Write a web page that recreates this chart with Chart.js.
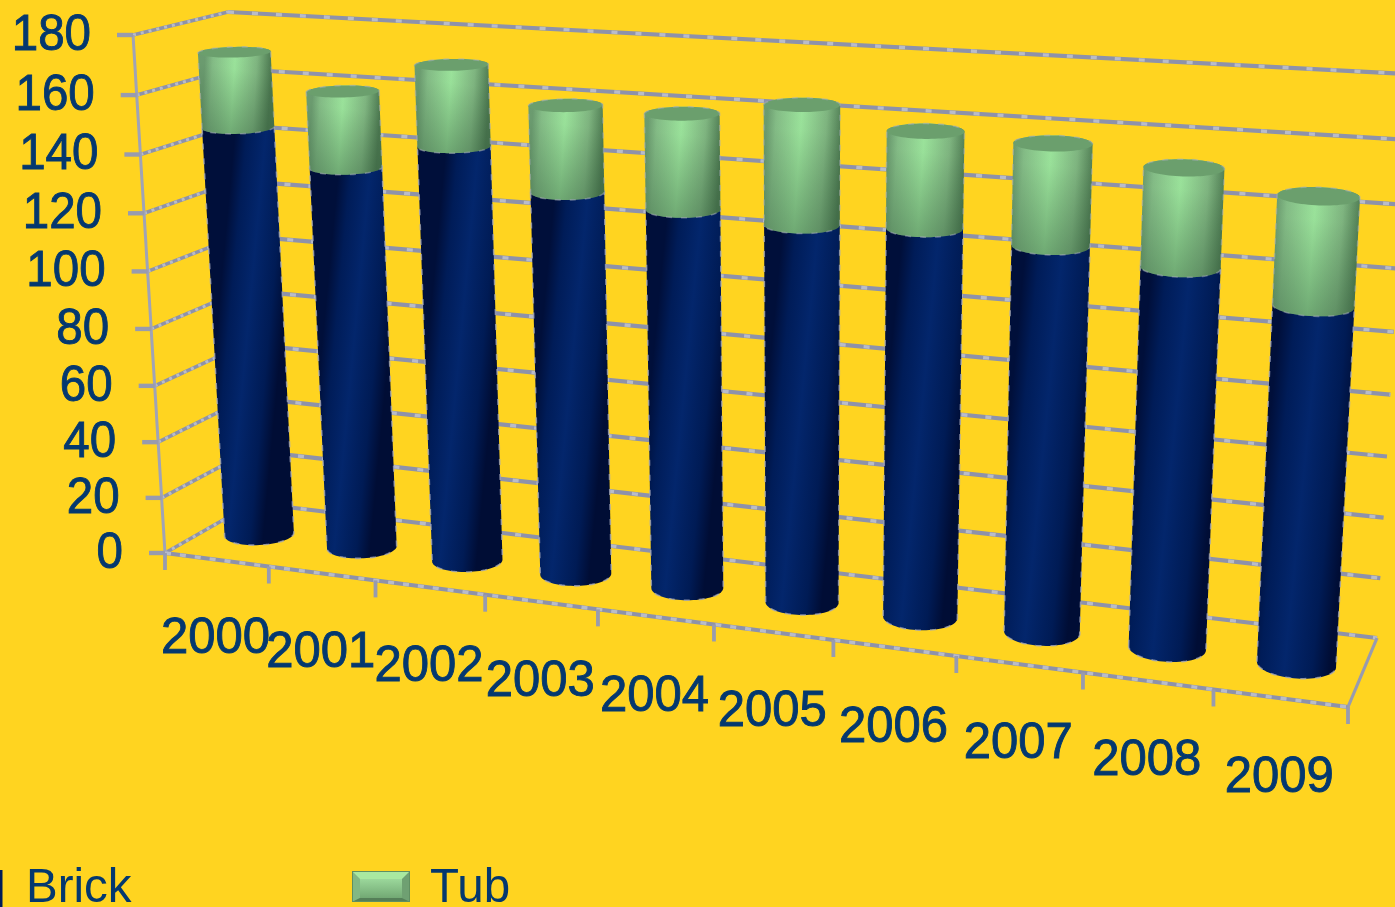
<!DOCTYPE html>
<html>
<head>
<meta charset="utf-8">
<style>
html,body{margin:0;padding:0;background:#FFD420;overflow:hidden}
canvas{display:block}
</style>
<script src="https://cdn.jsdelivr.net/npm/chart.js@4"></script>
</head>
<body>
<canvas id="chart" width="1395" height="907"></canvas>
<script>
const categories = ['2000','2001','2002','2003','2004','2005','2006','2007','2008','2009'];
const brick = [145.5,134.4,144.4,131.8,129,127,129,126.6,123,114.5];
const tub = [25.8,25.9,27.1,28.7,31.3,38.6,30.8,32,30.8,33.5];
const valueTicks = [0,20,40,60,80,100,120,140,160,180];

const INK = '#04386F';
const GRID = '#8E92AA';
const GRID_LIGHT = '#B9BCC9';
const PAPER = '#FFD420';

// Builds a projective map from the unit square to a screen quad
// (corners given as s0t0, s1t0, s1t1, s0t1).
function quadMap(p0, p1, p2, p3) {
  const dx1 = p1[0]-p2[0], dx2 = p3[0]-p2[0], sx = p0[0]-p1[0]+p2[0]-p3[0];
  const dy1 = p1[1]-p2[1], dy2 = p3[1]-p2[1], sy = p0[1]-p1[1]+p2[1]-p3[1];
  const den = dx1*dy2-dx2*dy1;
  const g = (sx*dy2-dx2*sy)/den, h = (dx1*sy-sx*dy1)/den;
  const a = p1[0]-p0[0]+g*p1[0], b = p3[0]-p0[0]+h*p3[0], c = p0[0];
  const d = p1[1]-p0[1]+g*p1[1], e = p3[1]-p0[1]+h*p3[1], f = p0[1];
  return (s,t) => {
    const w = g*s+h*t+1;
    return [(a*s+b*t+c)/w, (d*s+e*t+f)/w];
  };
}

// Front and back faces of the 3D plot box.
const frontFace = quadMap([165,553],[1348,707],[1379,113],[133,35]);
const backFace = quadMap([253,503],[1377,638],[1408,74],[228,12]);

function project(s, t, z) {
  const f = frontFace(s,t), b = backFace(s,t);
  return [f[0]+(b[0]-f[0])*z, f[1]+(b[1]-f[1])*z];
}

function line(ctx, a, b, width, color) {
  ctx.beginPath();
  ctx.moveTo(a[0],a[1]);
  ctx.lineTo(b[0],b[1]);
  ctx.lineWidth = width;
  ctx.strokeStyle = color;
  ctx.stroke();
}

function gridLine(ctx, a, b, width, dash) {
  ctx.setLineDash([]);
  line(ctx, a, b, width, GRID);
  ctx.setLineDash(dash);
  line(ctx, a, b, width*0.8, GRID_LIGHT);
  ctx.setLineDash([]);
}

function convexHull(points) {
  const pts = points.slice().sort((p,q) => p[0]-q[0] || p[1]-q[1]);
  const cross = (o,a,b) => (a[0]-o[0])*(b[1]-o[1])-(a[1]-o[1])*(b[0]-o[0]);
  const lower = [], upper = [];
  for (const p of pts) {
    while (lower.length>1 && cross(lower[lower.length-2],lower[lower.length-1],p)<=0) lower.pop();
    lower.push(p);
  }
  for (let i=pts.length-1;i>=0;i--) {
    const p = pts[i];
    while (upper.length>1 && cross(upper[upper.length-2],upper[upper.length-1],p)<=0) upper.pop();
    upper.push(p);
  }
  lower.pop(); upper.pop();
  return lower.concat(upper);
}

function tracePath(ctx, pts) {
  ctx.beginPath();
  pts.forEach((p,i) => i ? ctx.lineTo(p[0],p[1]) : ctx.moveTo(p[0],p[1]));
  ctx.closePath();
}

// Draws one cylinder segment between two stacked levels.
function drawCylinder(ctx, s0, halfS, tBase, tTop, isTub) {
  const DEPTH_RADIUS = 0.2;
  const ring = t => {
    const out = [];
    for (let k=0;k<72;k++) {
      const th = k/72*Math.PI*2;
      out.push(project(s0+halfS*Math.cos(th), t, 0.5+DEPTH_RADIUS*Math.sin(th)));
    }
    return out;
  };
  const bottom = ring(tBase), top = ring(tTop);
  const hull = convexHull(bottom.concat(top));
  const leftMid = project(s0-halfS,(tBase+tTop)/2,0.5);
  const rightMid = project(s0+halfS,(tBase+tTop)/2,0.5);

  ctx.save();
  tracePath(ctx, hull);
  ctx.clip();
  const across = ctx.createLinearGradient(leftMid[0]-2,leftMid[1],rightMid[0]+2,rightMid[1]);
  if (isTub) {
    across.addColorStop(0,'#6C9C70');
    across.addColorStop(0.12,'#84BC86');
    across.addColorStop(0.45,'#9BE39B');
    across.addColorStop(0.78,'#7FB580');
    across.addColorStop(1,'#4C7850');
  } else {
    across.addColorStop(0,'#000F3A');
    across.addColorStop(0.18,'#001C58');
    across.addColorStop(0.47,'#03266C');
    across.addColorStop(0.8,'#001B55');
    across.addColorStop(1,'#000D35');
  }
  ctx.fillStyle = across;
  ctx.fillRect(0,0,1395,907);
  if (isTub) {
    const a = project(s0,tTop,0.5), b = project(s0,tBase,0.3);
    const down = ctx.createLinearGradient(a[0],a[1],b[0],b[1]);
    down.addColorStop(0,'rgba(50,90,60,0)');
    down.addColorStop(0.2,'rgba(50,90,60,0.02)');
    down.addColorStop(1,'rgba(50,90,60,0.42)');
    ctx.fillStyle = down;
    ctx.fillRect(0,0,1395,907);
  }
  ctx.restore();

  if (isTub) {
    tracePath(ctx, top);
    ctx.fillStyle = '#6B9F6D';
    ctx.fill();
  }

  // Pale broken edge along the silhouette of the cylinder.
  ctx.save();
  tracePath(ctx, hull);
  ctx.lineWidth = 1.6;
  ctx.setLineDash([6,9]);
  ctx.strokeStyle = isTub ? 'rgba(170,175,190,0.5)' : 'rgba(165,170,190,0.75)';
  ctx.stroke();
  ctx.restore();
}

// Text with a hairline of its own colour and an optional horizontal squeeze.
function label(ctx, text, x, y, squeeze) {
  ctx.save();
  ctx.translate(x,y);
  ctx.scale(squeeze,1);
  ctx.strokeStyle = INK;
  ctx.lineWidth = 0.9;
  ctx.strokeText(text,0,0);
  ctx.fillText(text,0,0);
  ctx.restore();
}

const box3d = {
  id: 'box3d',
  beforeDraw(chart) {
    const {ctx, scales:{x,y}, chartArea:area} = chart;
    const ns = v => (x.getPixelForValue(v)-area.left)/area.width;
    const nt = v => (area.bottom-y.getPixelForValue(v))/area.height;
    chart.$ns = ns; chart.$nt = nt;

    ctx.save();
    ctx.fillStyle = PAPER;
    ctx.fillRect(0,0,chart.width,chart.height);
    ctx.lineCap = 'butt';

    // Side wall and back wall gridlines
    valueTicks.forEach(v => {
      const t = nt(v);
      gridLine(ctx, frontFace(0,t), backFace(0,t), 3.6, [3,5]);
      gridLine(ctx, backFace(0,t), backFace(1,t), 4.2, [6,18]);
    });

    // Left axis with its outward ticks
    line(ctx, frontFace(0,0), frontFace(0,1), 3, '#A0A3B6');
    valueTicks.forEach(v => {
      const p = frontFace(0,nt(v));
      line(ctx, [p[0]-16,p[1]], [p[0],p[1]], 4.4, '#989BAF');
    });

    // Floor outline and category ticks
    gridLine(ctx, frontFace(0,0), frontFace(1,0), 4.2, [6,9]);
    line(ctx, frontFace(1,0), backFace(1,0), 3.2, '#989BAF');
    for (let i=0;i<=categories.length;i++) {
      const p = frontFace(i/categories.length,0);
      line(ctx, [p[0],p[1]], [p[0],p[1]+17], 3.8, '#989BAF');
    }
    ctx.restore();
  },
  beforeDatasetsDraw(chart) {
    // Stacked upward: the lower segment first so the upper one overlaps its rim.
    const {ctx, chartArea:area} = chart;
    chart.data.datasets.forEach((ds, index) => {
      chart.getDatasetMeta(index).data.forEach(bar => {
        const p = bar.getProps(['x','y','base','width'], true);
        const s0 = (p.x-area.left)/area.width;
        const halfS = p.width/2/area.width;
        const tBase = (area.bottom-p.base)/area.height;
        const tTop = (area.bottom-p.y)/area.height;
        drawCylinder(ctx, s0, halfS, tBase, tTop, index === 1);
      });
    });
  },
  beforeDatasetDraw() {
    return false;
  },
  afterDraw(chart) {
    const {ctx} = chart;
    const ns = chart.$ns, nt = chart.$nt;
    ctx.save();
    ctx.fillStyle = INK;
    ctx.textBaseline = 'middle';

    // Value labels beside the left axis
    ctx.font = '50px "Liberation Sans"';
    ctx.textAlign = 'right';
    valueTicks.forEach(v => {
      const p = frontFace(0,nt(v));
      label(ctx, String(v), p[0]-42, p[1]+1, 0.95);
    });

    // Category labels below the floor edge
    ctx.textAlign = 'center';
    categories.forEach((c,i) => {
      const p = frontFace(ns(i),0);
      label(ctx, c, p[0]-1, p[1]+79.5+0.1*i, 0.98);
    });

    // Legend row
    const datasets = chart.data.datasets;
    ctx.textAlign = 'left';
    ctx.textBaseline = 'alphabetic';
    ctx.font = '47.5px "Liberation Sans"';
    ctx.fillText(datasets[0].label, 26, 902);
    ctx.fillText(datasets[1].label, 430, 902);

    // Navy swatch runs off the left edge of the canvas
    ctx.fillStyle = '#001C58';
    ctx.fillRect(0,870,2.5,37);

    // Bevelled green swatch
    const sx=352, sy=871, sw=58, sh=31, b=8;
    const g = ctx.createLinearGradient(0,sy,0,sy+sh);
    g.addColorStop(0,'#B5EEA6');
    g.addColorStop(0.3,'#98D498');
    g.addColorStop(1,'#6A9F6C');
    ctx.fillStyle = g;
    ctx.fillRect(sx,sy,sw,sh);
    const bevel = (pts,c) => { tracePath(ctx,pts); ctx.fillStyle=c; ctx.fill(); };
    bevel([[sx,sy],[sx+sw,sy],[sx+sw-b,sy+b],[sx+b,sy+b]],'#A9E8A0');
    bevel([[sx,sy],[sx+b,sy+b],[sx+b,sy+sh-4],[sx,sy+sh]],'#82B884');
    bevel([[sx+sw,sy],[sx+sw-b,sy+b],[sx+sw-b,sy+sh-4],[sx+sw,sy+sh]],'#6FA072');
    bevel([[sx,sy+sh],[sx+b,sy+sh-4],[sx+sw-b,sy+sh-4],[sx+sw,sy+sh]],'#557F58');
    ctx.strokeStyle = '#5F8F62';
    ctx.lineWidth = 1;
    ctx.strokeRect(sx+.5,sy+.5,sw-1,sh-1);
    ctx.restore();
  }
};

new Chart(document.getElementById('chart'), {
  type: 'bar',
  data: {
    labels: categories,
    datasets: [
      {label:'Brick', data:brick, backgroundColor:'#03266C'},
      {label:'Tub', data:tub, backgroundColor:'#9BE39B'}
    ]
  },
  options: {
    responsive: false,
    animation: false,
    maintainAspectRatio: false,
    layout: {padding: 0},
    categoryPercentage: 1,
    barPercentage: 0.595,
    plugins: {legend:{display:false}, tooltip:{enabled:false}},
    scales: {
      x: {display:false, stacked:true},
      y: {display:false, stacked:true, min:0, max:180}
    }
  },
  plugins: [box3d]
});
</script>
</body>
</html>
